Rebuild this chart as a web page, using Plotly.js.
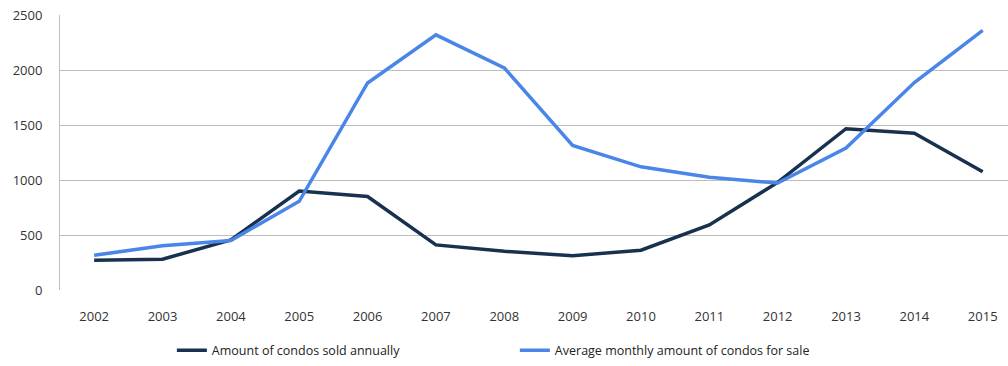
<!DOCTYPE html>
<html>
<head>
<meta charset="utf-8">
<script src="https://cdn.plot.ly/plotly-3.0.1.min.js"></script>
<style>html,body{margin:0;padding:0;background:#fff;}#chart{width:1008px;height:366px;}</style>
</head>
<body>
<div id="chart"></div>
<script>
const years = ['2002','2003','2004','2005','2006','2007','2008','2009','2010','2011','2012','2013','2014','2015'];
const soldAnnually = [270, 280, 455, 900, 850, 410, 352, 312, 362, 592, 978, 1466, 1426, 1075];
const forSaleMonthly = [315, 402, 450, 806, 1882, 2320, 2020, 1314, 1120, 1025, 972, 1291, 1886, 2360];
const yTicks = [0, 500, 1000, 1500, 2000, 2500];

const traces = [
  {x: years, y: soldAnnually, type: 'scatter', mode: 'lines', name: 'Amount of condos sold annually',
   line: {color: '#18314f', width: 3.5}},
  {x: years, y: forSaleMonthly, type: 'scatter', mode: 'lines', name: 'Average monthly amount of condos for sale',
   line: {color: '#4a86e8', width: 3.5}}
];

const layout = {
  width: 1008, height: 366,
  margin: {l: 60, r: 0, t: 15, b: 73},
  paper_bgcolor: '#fff', plot_bgcolor: '#fff',
  font: {family: 'Open Sans, DejaVu Sans, sans-serif', size: 13, color: '#333'},
  showlegend: true,
  legend: {orientation: 'h', x: 0.118, xanchor: 'left', y: -0.22, yanchor: 'middle',
           entrywidth: 298, entrywidthmode: 'pixels', font: {size: 12.5, color: '#222'},
           itemwidth: 30, tracegroupgap: 0},
  xaxis: {type: 'category', range: [-0.5, 13.37], showgrid: false, zeroline: false,
          showline: false, ticks: 'outside', ticklen: 14, tickcolor: 'rgba(0,0,0,0)', fixedrange: true},
  yaxis: {range: [0, 2500], tickvals: yTicks, showgrid: true, gridcolor: '#bdbdbd', gridwidth: 1,
          zeroline: false, showline: true, linecolor: '#bdbdbd', linewidth: 1,
          ticks: 'outside', ticklen: 14, tickcolor: 'rgba(0,0,0,0)', fixedrange: true}
};

Plotly.newPlot('chart', traces, layout, {displayModeBar: false, staticPlot: true});
</script>
</body>
</html>
